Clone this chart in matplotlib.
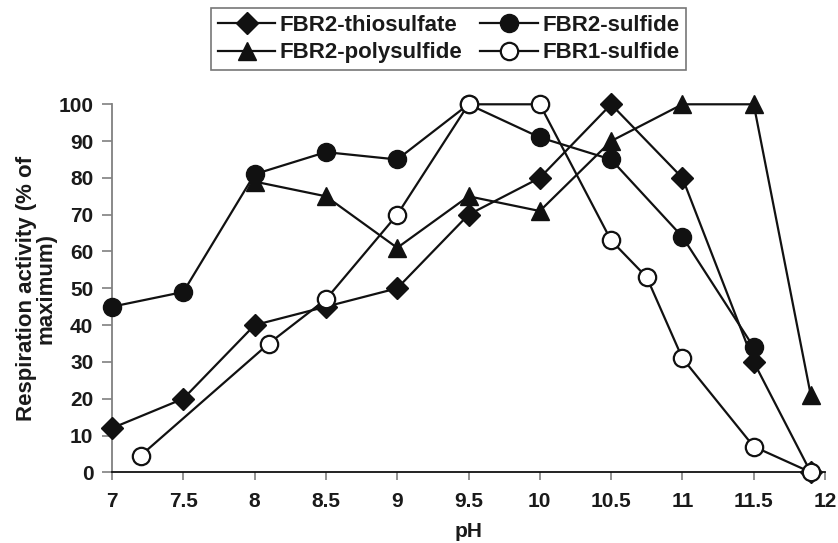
import matplotlib
matplotlib.use("Agg")
import matplotlib.pyplot as plt

plt.rcParams['font.family'] = ['Liberation Sans', 'DejaVu Sans']
plt.rcParams['font.weight'] = 'bold'

thio_x = [7, 7.5, 8, 8.5, 9, 9.5, 10, 10.5, 11, 11.5, 11.9]
thio_y = [12, 20, 40, 45, 50, 70, 80, 100, 80, 30, 0]
sulf_x = [7, 7.5, 8, 8.5, 9, 9.5, 10, 10.5, 11, 11.5]
sulf_y = [45, 49, 81, 87, 85, 100, 91, 85, 64, 34]
poly_x = [8, 8.5, 9, 9.5, 10, 10.5, 11, 11.5, 11.9]
poly_y = [79, 75, 61, 75, 71, 90, 100, 100, 21]
fbr1_x = [7.2, 8.1, 8.5, 9, 9.5, 10, 10.5, 10.75, 11, 11.5, 11.9]
fbr1_y = [4.5, 35, 47, 70, 100, 100, 63, 53, 31, 7, 0]
x_ticks = [7, 7.5, 8, 8.5, 9, 9.5, 10, 10.5, 11, 11.5, 12]
x_labels = ['7', '7.5', '8', '8.5', '9', '9.5', '10', '10.5', '11', '11.5', '12']
y_ticks = list(range(0, 101, 10))

W, H = 838, 543
fig = plt.figure(figsize=(W / 100, H / 100), dpi=100)
ax = fig.add_axes([112 / W, 1 - 472.3 / H, (825 - 112) / W, (472.3 - 104.3) / H])

lc = '#111111'
tc = '#1a1a1a'
lw = 1.6
h1, = ax.plot(thio_x, thio_y, color=lc, lw=lw, marker='D', ms=11, mfc=lc, mec=lc, clip_on=False, zorder=3,
              label='FBR2-thiosulfate')
h2, = ax.plot(sulf_x, sulf_y, color=lc, lw=lw, marker='o', ms=13, mfc=lc, mec=lc, clip_on=False, zorder=4,
              label='FBR2-sulfide')
h3, = ax.plot(poly_x, poly_y, color=lc, lw=lw, marker='^', ms=13, mfc=lc, mec=lc, clip_on=False, zorder=5,
              label='FBR2-polysulfide')
h4, = ax.plot(fbr1_x, fbr1_y, color=lc, lw=lw, marker='o', ms=12.5, mfc='white', mec=lc, mew=1.6, clip_on=False,
              zorder=6, label='FBR1-sulfide')

ax.set_xlim(7, 12)
ax.set_ylim(0, 100)
ax.set_xticks(x_ticks)
ax.set_xticklabels(x_labels)
ax.set_yticks(y_ticks)
for s in ['top', 'right']:
    ax.spines[s].set_visible(False)
ax.spines['left'].set_color('#808080')
ax.spines['left'].set_linewidth(1.3)
ax.spines['bottom'].set_color('#111111')
ax.spines['bottom'].set_linewidth(1.3)
ax.tick_params(axis='both', direction='out', width=1.2, color='#808080', labelsize=15, labelcolor=tc)
ax.tick_params(axis='x', length=6, pad=8.5)
ax.tick_params(axis='y', length=7, pad=6.5)
for lab in ax.get_xticklabels() + ax.get_yticklabels():
    lab.set_fontweight('bold')

ax.set_xlabel('pH', fontsize=15, fontweight='bold', color=tc, va='center')
ax.xaxis.set_label_coords(0.5, -0.162)
ax.set_ylabel('Respiration activity (% of\nmaximum)', fontsize=16, fontweight='bold', color=tc,
              linespacing=0.9, va='center', ha='center')
ax.yaxis.set_label_coords(-0.1066, 0.5)

leg = fig.legend(handles=[h1, h3, h2, h4], ncol=2, loc='upper left',
                 bbox_to_anchor=(211 / W, 1 - 8 / H), frameon=True, fancybox=False,
                 prop={'weight': 'bold', 'size': 16}, handlelength=2.6, columnspacing=0.8,
                 handletextpad=0.2, borderpad=0.3, labelspacing=0.3, borderaxespad=0)
leg.get_frame().set_edgecolor('#555555')
leg.get_frame().set_linewidth(1.2)
for t in leg.get_texts():
    t.set_color(tc)

fig.savefig('out.png', dpi=100)
